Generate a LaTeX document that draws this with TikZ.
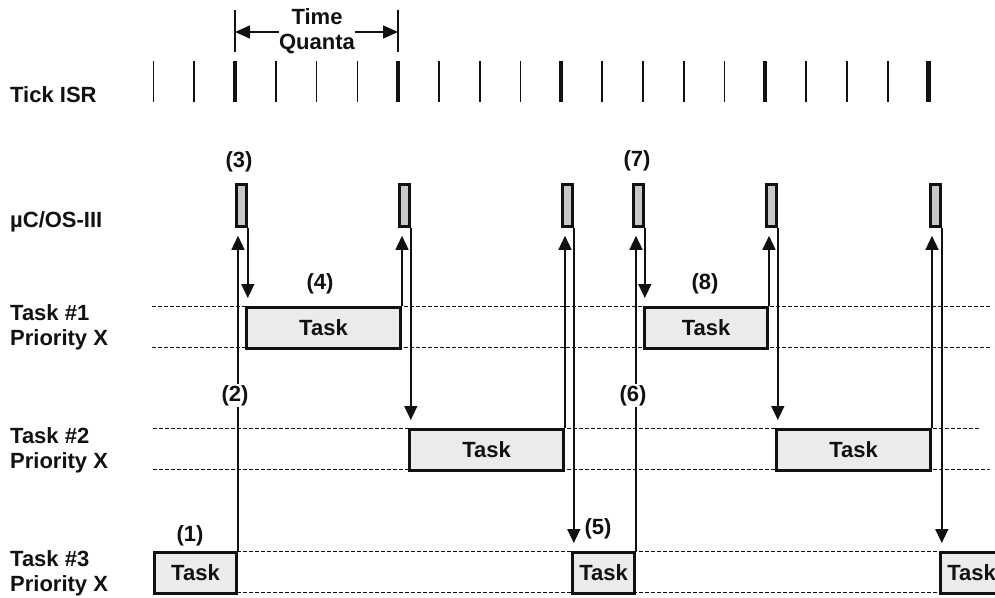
\documentclass[tikz,border=0pt]{standalone}
\usepackage{fontspec}
\setmainfont{Liberation Sans}
\usetikzlibrary{arrows.meta}
\definecolor{taskfill}{HTML}{EBEBEB}
\definecolor{osfill}{HTML}{C8C8C8}
\definecolor{ink}{HTML}{111111}
\begin{document}
\begin{tikzpicture}[x=1pt,y=-1pt,
  every node/.style={font=\fontsize{22}{25}\selectfont\bfseries, text=ink, inner sep=0pt},
  taskbox/.style={draw=ink, line width=3pt, fill=taskfill, minimum height=41pt, anchor=north west},
  osbox/.style={draw=ink, line width=2.8pt, fill=osfill, minimum width=10pt, minimum height=42pt, anchor=north west},
  flow/.style={draw=ink, line width=1.5pt, -{Triangle[length=14pt,width=13pt]}, shorten >=8pt},
  qarrow/.style={draw=ink, line width=1.5pt, -{Triangle[length=15pt,width=13pt]}},
  lane/.style={draw=ink, line width=1pt, dash pattern=on 4pt off 2pt},
  num/.style={anchor=base},
  rowlabel/.style={align=left, anchor=west}]
\useasboundingbox (0,0) rectangle (995,597);
\clip (0,0) rectangle (995,597);

% row labels
\node[anchor=base west] (ltick) at (10,102) {Tick ISR};
\node[anchor=base west] (los) at (10,227) {µC/OS-III};
\node[rowlabel] (lt1) at (10,327.5) {Task \#1\\Priority X};
\node[rowlabel] (lt2) at (10,450) {Task \#2\\Priority X};
\node[rowlabel] (lt3) at (10,573.5) {Task \#3\\Priority X};

% lanes
\draw[lane] (152,306) -- (992,306);
\draw[lane] (152,347) -- (992,347);
\draw[lane] (153,428) -- (979,428);
\draw[lane] (153,469) -- (990,469);
\draw[lane] (153,551) -- (995,551);
\draw[lane] (153,592) -- (995,592);

% ticks
\foreach \k in {0,1,3,4,5,7,8,9,11,12,13,14,16,17,18} {
  \pgfmathsetmacro\xx{153.3+40.8*\k}
  \draw[ink, line width=1.6pt] (\xx,61) -- (\xx,102);
}
\foreach \k in {2,6,10,15,19} {
  \pgfmathsetmacro\xx{153.3+40.8*\k}
  \draw[ink, line width=4.2pt] (\xx,61) -- (\xx,102);
}

% time quanta
\coordinate (qa1) at (235,10);
\coordinate (qa2) at (235,52);
\coordinate (qb1) at (398,10);
\coordinate (qb2) at (398,52);
\draw[ink, line width=1.5pt] (qa1) -- (qa2);
\draw[ink, line width=1.5pt] (qb1) -- (qb2);
\node[align=center] (tq) at (317,31.5) {Time\\Quanta};
\coordinate (qal) at (235,32);
\coordinate (qbl) at (398,32);
\draw[qarrow] (tq.west |- qal) -- (qal);
\draw[qarrow] (tq.east |- qbl) -- (qbl);

% OS boxes
\node[osbox] (os1) at (235,183) {};
\node[osbox] (os2) at (398,183) {};
\node[osbox] (os3) at (561,183) {};
\node[osbox] (os4) at (632,183) {};
\node[osbox] (os5) at (765,183) {};
\node[osbox] (os6) at (929,183) {};

% task boxes
\node[taskbox, minimum width=82pt]  (t3a) at (153,551) {Task};
\node[taskbox, minimum width=154pt] (t1a) at (245,306) {Task};
\node[taskbox, minimum width=154pt] (t2a) at (408,428) {Task};
\node[taskbox, minimum width=62pt]  (t3b) at (571,551) {Task};
\node[taskbox, minimum width=123pt] (t1b) at (643,306) {Task};
\node[taskbox, minimum width=154pt] (t2b) at (775,428) {Task};
\node[taskbox, minimum width=62pt]  (t3c) at (939,551) {Task};

% connectors
\draw[flow] (t3a.north east) -- (t3a.north east |- os1.south);
\draw[flow] (os1.south east) -- (os1.south east |- t1a.north);
\draw[flow] (t1a.north east) -- (t1a.north east |- os2.south);
\draw[flow] (os2.south east) -- (os2.south east |- t2a.north);
\draw[flow] (t2a.north east) -- (t2a.north east |- os3.south);
\draw[flow] (os3.south east) -- (os3.south east |- t3b.north);
\draw[flow] (t3b.north east) -- (t3b.north east |- os4.south);
\draw[flow] (os4.south east) -- (os4.south east |- t1b.north);
\draw[flow] (t1b.north east) -- (t1b.north east |- os5.south);
\draw[flow] (os5.south east) -- (os5.south east |- t2b.north);
\draw[flow] (t2b.north east) -- (t2b.north east |- os6.south);
\draw[flow] (os6.south east) -- (os6.south east |- t3c.north);

% step numbers
\node[num] (n1) at (190,541) {(1)};
\node[num, fill=white, inner sep=1pt] (n2) at (235,401) {(2)};
\node[num] (n3) at (239,167) {(3)};
\node[num] (n4) at (320,289) {(4)};
\node[num] (n5) at (598,534) {(5)};
\node[num, fill=white, inner sep=1pt] (n6) at (633,401) {(6)};
\node[num] (n7) at (637,166) {(7)};
\node[num] (n8) at (705,289) {(8)};
\end{tikzpicture}
\end{document}
